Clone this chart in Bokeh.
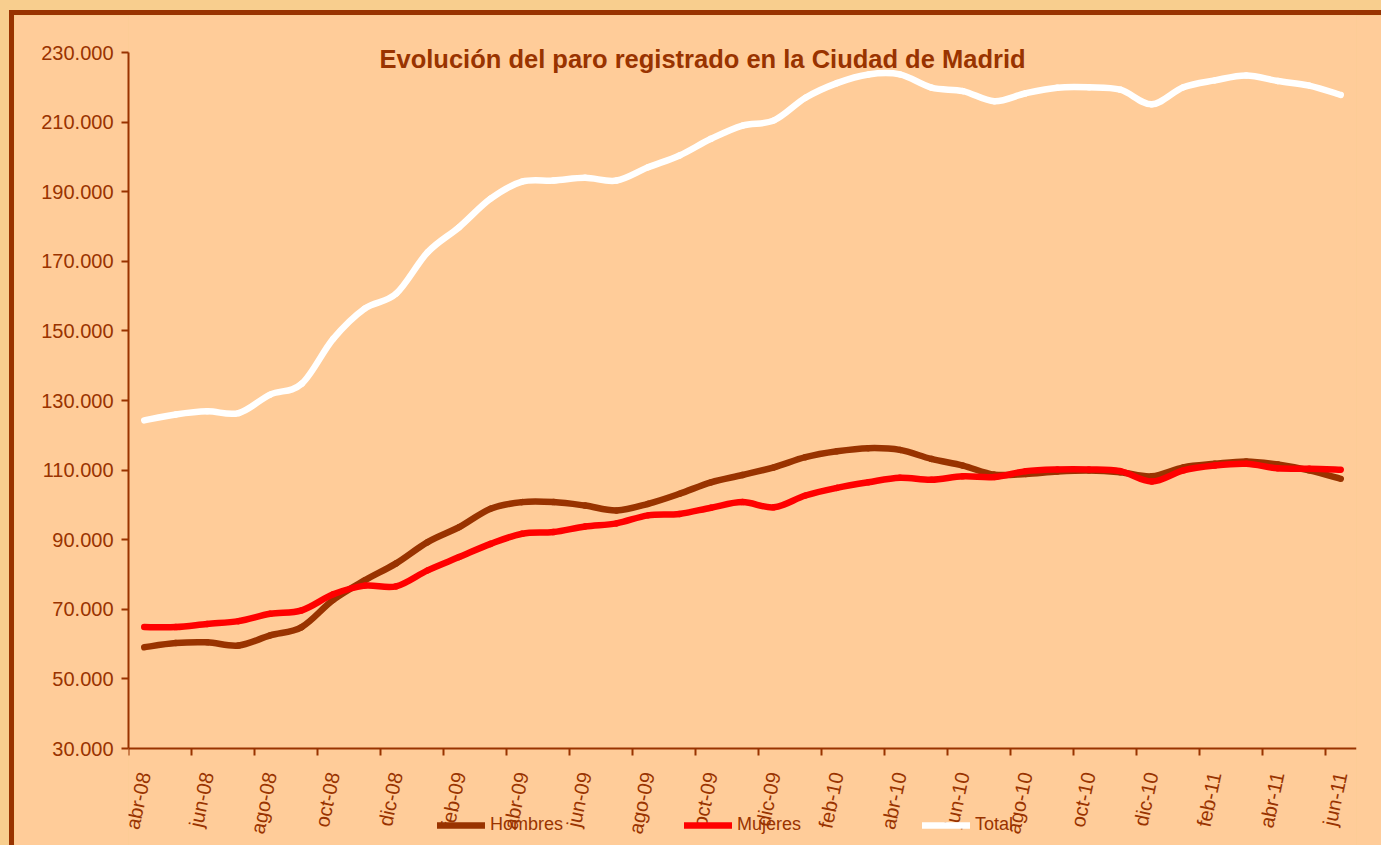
import numpy as np
from bokeh.plotting import figure
from bokeh.models import (Range1d, FixedTicker, Legend, LegendItem, Label,
                          ColumnDataSource)
from bokeh.embed import file_html
from bokeh.resources import INLINE

# ---------------- data ----------------
months = ["abr-08", "may-08", "jun-08", "jul-08", "ago-08", "sep-08", "oct-08",
          "nov-08", "dic-08", "ene-09", "feb-09", "mar-09", "abr-09", "may-09",
          "jun-09", "jul-09", "ago-09", "sep-09", "oct-09", "nov-09", "dic-09",
          "ene-10", "feb-10", "mar-10", "abr-10", "may-10", "jun-10", "jul-10",
          "ago-10", "sep-10", "oct-10", "nov-10", "dic-10", "ene-11", "feb-11",
          "mar-11", "abr-11", "may-11", "jun-11"]

hombres = [59100, 60300, 60500, 59600, 62500, 64900, 72700, 78300, 83200,
           89300, 93600, 98900, 100800, 100800, 99800, 98400, 100300, 103200,
           106500, 108600, 110800, 113700, 115400, 116300, 115800, 113200,
           111300, 108700, 108900, 109600, 109900, 109400, 108200, 110800,
           111800, 112500, 111600, 109900, 107500]

mujeres = [64900, 64900, 65800, 66600, 68700, 69700, 74300, 76800, 76600,
           81200, 85000, 88800, 91700, 92200, 93800, 94700, 97000, 97400,
           99200, 100800, 99300, 102700, 104900, 106500, 107800, 107200,
           108200, 108000, 109700, 110200, 110200, 109700, 106700, 109900,
           111300, 111800, 110500, 110400, 110100]

total = [124300, 126000, 126900, 126400, 131700, 134800, 147700, 156400,
         160700, 172600, 179800, 188000, 192900, 193200, 194000, 193200,
         197000, 200400, 205200, 209000, 210500, 217000, 221200, 223700,
         223700, 219900, 218900, 216000, 218300, 219900, 220000, 219300,
         215100, 220000, 222000, 223400, 221800, 220500, 217800]

series_names = ["Hombres", "Mujeres", "Total"]
y_ticks = [30000, 50000, 70000, 90000, 110000, 130000, 150000, 170000,
           190000, 210000, 230000]
y_tick_labels = ["30.000", "50.000", "70.000", "90.000", "110.000", "130.000",
                 "150.000", "170.000", "190.000", "210.000", "230.000"]
title_text = "Evolución del paro registrado en la Ciudad de Madrid"

# ---------------- styles ----------------
BROWN = "#993300"
RED = "#FF0000"
WHITE = "#FFFFFF"
PEACH = "#FFCC99"
OUTER = "#F8CE8E"
FONT = "Liberation Sans"

W, H = 1367, 830            # canvas size
TOP_TICK_PX = 37            # pixel row of the top y tick
AXIS_PX = 696               # pixel height between first and last y tick


def smooth_source(ys):
    """Cubic Bezier segments (Catmull-Rom style) through the data points."""
    ys = np.asarray(ys, dtype=float)
    n = len(ys)
    xs = np.arange(n, dtype=float)
    xp = np.concatenate([[xs[0]], xs, [xs[-1]]])
    yp = np.concatenate([[ys[0]], ys, [ys[-1]]])
    x0, y0 = xp[1:n], yp[1:n]
    x1, y1 = xp[2:n + 1], yp[2:n + 1]
    cx0 = x0 + (xp[2:n + 1] - xp[0:n - 1]) / 6.0
    cy0 = y0 + (yp[2:n + 1] - yp[0:n - 1]) / 6.0
    cx1 = x1 - (xp[3:n + 2] - xp[1:n]) / 6.0
    cy1 = y1 - (yp[3:n + 2] - yp[1:n]) / 6.0
    return ColumnDataSource(dict(x0=x0, y0=y0, x1=x1, y1=y1,
                                 cx0=cx0, cy0=cy0, cx1=cx1, cy1=cy1))


n = len(months)
per_px = (y_ticks[-1] - y_ticks[0]) / AXIS_PX
# the frame spans the whole canvas height; the axes are bounded to the ticks
y_end = y_ticks[-1] + TOP_TICK_PX * per_px
y_start = y_ticks[-1] - (H - TOP_TICK_PX) * per_px

p = figure(width=W, height=H, output_backend="svg", toolbar_location=None,
           x_range=Range1d(-0.5, n - 0.5), y_range=Range1d(y_start, y_end),
           min_border_left=114, min_border_right=25, min_border_top=0,
           min_border_bottom=0)
p.background_fill_color = PEACH
p.border_fill_color = PEACH
p.outline_line_color = None
p.xgrid.visible = False
p.ygrid.visible = False

renderers = []
for ys, color in zip([hombres, mujeres, total], [BROWN, RED, WHITE]):
    r = p.bezier(x0="x0", y0="y0", x1="x1", y1="y1", cx0="cx0", cy0="cy0",
                 cx1="cx1", cy1="cy1", source=smooth_source(ys),
                 line_color=color, line_width=6.5, line_cap="round")
    renderers.append(r)

# ---------------- axes ----------------
yax = p.yaxis[0]
yax.ticker = FixedTicker(ticks=y_ticks, minor_ticks=[])
yax.bounds = (y_ticks[0], y_ticks[-1])
yax.major_label_overrides = {t: l for t, l in zip(y_ticks, y_tick_labels)}
yax.axis_line_color = BROWN
yax.axis_line_width = 2
yax.major_tick_line_color = BROWN
yax.major_tick_line_width = 2
yax.major_tick_out = 7
yax.major_tick_in = 0
yax.minor_tick_line_color = None
yax.major_label_standoff = 8
yax.major_label_text_color = BROWN
yax.major_label_text_font = FONT
yax.major_label_text_font_size = "20px"

xax = p.xaxis[0]
xax.fixed_location = y_ticks[0]
label_idx = list(range(0, n, 2))
xax.ticker = FixedTicker(ticks=label_idx, minor_ticks=[i - 0.5 for i in label_idx])
xax.major_label_overrides = {i: months[i] for i in label_idx}
xax.axis_line_color = BROWN
xax.axis_line_width = 2
xax.major_tick_line_color = None
xax.major_tick_out = 0
xax.major_tick_in = 0
xax.minor_tick_line_color = BROWN
xax.minor_tick_line_width = 2
xax.minor_tick_out = 7
xax.minor_tick_in = 0
xax.major_label_orientation = 1.361
xax.major_label_standoff = 17
xax.major_label_text_color = BROWN
xax.major_label_text_font = FONT
xax.major_label_text_font_size = "20px"

# ---------------- title ----------------
p.add_layout(Label(x=574, y=H - 43, x_units="screen", y_units="screen",
                   text=title_text, text_align="center",
                   text_baseline="alphabetic", text_color=BROWN,
                   text_font=FONT, text_font_style="bold",
                   text_font_size="25.5px"))

# ---------------- legend ----------------
legend = Legend(items=[LegendItem(label=nm, renderers=[r])
                       for nm, r in zip(series_names, renderers)],
                location=(309, 10), orientation="horizontal",
                glyph_width=48, glyph_height=18, label_height=18,
                label_standoff=5, spacing=121, padding=0, margin=0,
                border_line_color=None, background_fill_alpha=0,
                label_text_color=BROWN, label_text_font=FONT,
                label_text_font_size="18px")
p.add_layout(legend, "center")

css = ("<style>html,body{overflow:hidden;background:"
       "linear-gradient(%s,%s) 9px 10px/5px 100%% no-repeat,"
       "linear-gradient(%s,%s) 9px 10px/100%% 5px no-repeat,%s;}"
       "body{padding:15px 0 0 14px !important;margin:0 !important;}</style>"
       % (BROWN, BROWN, BROWN, BROWN, OUTER))
html = file_html(p, INLINE, title=title_text)
html = html.replace("</head>", css + "</head>", 1)
open("out.html", "w").write(html)
